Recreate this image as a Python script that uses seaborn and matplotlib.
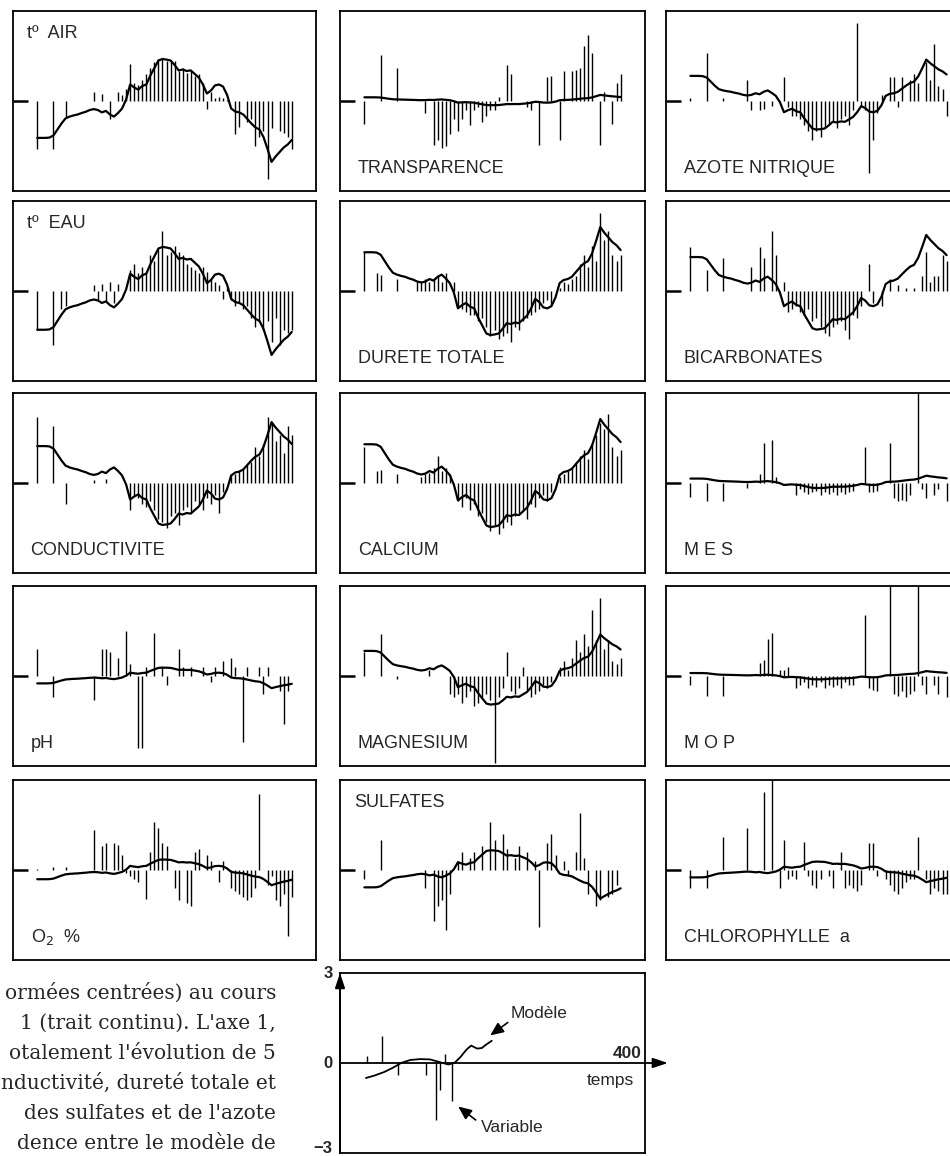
import numpy as np
import matplotlib
matplotlib.use('Agg')
import matplotlib.pyplot as plt
import seaborn as sns

sns.set_style('white')
plt.rcParams['font.family'] = ['Liberation Sans', 'DejaVu Sans']

# score of the samples on axis 1 (the "model" time course)
axe1 = [-1.23, -1.23, -1.23, -1.22, -1.15, -0.95, -0.75, -0.58, -0.52, -0.48,
        -0.45, -0.40, -0.36, -0.30, -0.27, -0.30, -0.38, -0.33, -0.45, -0.52,
        -0.40, -0.25, 0.05, 0.55, 0.45, 0.38, 0.50, 0.55, 0.85, 1.10,
        1.35, 1.40, 1.38, 1.35, 1.20, 1.02, 1.05, 1.00, 1.02, 0.90,
        0.78, 0.55, 0.25, 0.35, 0.52, 0.55, 0.48, 0.20, -0.25, -0.35,
        -0.38, -0.45, -0.60, -0.75, -0.88, -0.95, -1.20, -1.60, -2.03, -1.85,
        -1.70, -1.55, -1.45, -1.30]

# correlation of each variable with axis 1
loadings = {
    't_air': 1.0, 'transparence': -0.1, 'azote': -0.68,
    't_eau': 1.05, 'durete': -1.05, 'bicarb': -0.92,
    'conduct': -1.0, 'calcium': -1.05, 'mes': -0.12,
    'ph': 0.2, 'magnesium': -0.68, 'mop': -0.08,
    'o2': 0.25, 'sulfates': 0.47, 'chloro': 0.2,
}

# standardised values of each variable (0 = no sample drawn)
t_air = [-1.6, 0, 0, 0, -1.6, 0, 0, -0.55, 0, 0,
         0, 0, 0, 0, 0.3, 0, 0.25, 0, -0.6, 0,
         0.3, 0.2, 0.4, 1.25, 0.6, 0.55, 0.7, 0.9, 1.1, 1.3,
         1.4, 1.4, 1.35, 1.3, 1.35, 1.0, 1.1, 0.95, 1.0, 0.85,
         0.9, 0.6, -0.25, 0.3, 0.1, 0.15, 0.1, 0.05, 0, -1.1,
         -0.85, 0, -0.7, -0.6, -1.5, -1.2, -1.0, -2.6, -0.9, 0,
         -1.0, -1.05, -1.2, -1.6]
transparence = [-0.75, 0, 0, 0, 1.55, 0, 0, 0, 1.1, 0,
                0, 0, 0, 0, 0, -0.4, 0, -1.45, -1.3, -1.55,
                -1.5, -1.1, -0.6, -1.0, -0.6, -0.3, -0.8, -0.3, -0.2, -0.7,
                -0.5, -0.3, -0.3, 0.15, 0, 1.2, 0.9, 0, 0, 0,
                -0.2, -0.3, 0, -1.45, 0, 0.8, 0.85, 0, -1.3, 1.0,
                0, 1.0, 1.05, 1.1, 1.85, 2.2, 1.6, 0, -1.45, 0.3,
                0, -0.75, 0.6, 0.9]
azote = [0.1, 0, 0, 0, 1.6, 0, 0, 0, 0.1, 0,
         0, 0, 0, 0, 0.7, -0.3, 0, -0.3, -0.25, 0,
         -0.15, 0, 0, 0.8, -0.2, -0.5, -0.5, -0.6, -0.8, -1.0,
         -1.3, -1.0, -1.2, -0.9, -0.8, -0.7, -0.9, -0.6, -0.5, -0.8,
         -0.3, 2.6, -0.2, -0.3, -2.4, -1.3, -0.4, 0.2, 0, 0.8,
         0.8, -0.2, 0.8, 0, 0.7, 0.9, 0.6, 0, 1.3, 0.7,
         1.9, 0.5, 0.4, -0.5]
t_eau = [-1.3, 0, 0, 0, -1.8, 0, -0.6, -0.5, 0, 0,
         0, 0, 0, 0, 0.2, -0.3, 0.25, -0.35, 0.3, -0.4,
         0.25, 0, 0, 0.7, 0.9, 0.6, 0.8, 0.6, 1.2, 1.0,
         1.4, 2.0, 1.2, 1.3, 1.5, 1.3, 1.2, 0.9, 0.8, 0.7,
         0.6, 0.8, 0.65, 0.4, 0.3, 0.2, -0.25, 0.1, -0.3, -0.5,
         -0.4, -0.6, -0.5, -0.9, -1.2, -1.0, -1.3, -1.0, -1.7, -0.9,
         -1.8, -1.3, -1.4, -1.3]
durete = [1.3, 0, 0, 0.6, 0.55, 0, 0, 0, 0.4, 0,
          0, 0, 0, 0.3, 0.35, 0.4, 0.3, 0.45, 0.5, 0.3,
          0.6, 0, 0.3, -0.5, -0.6, -0.7, -0.8, -0.8, -1.0, -0.9,
          -1.2, -1.5, -1.3, -1.6, -1.5, -1.4, -1.7, -1.2, -1.3, -1.0,
          -0.9, -0.8, -0.7, -0.6, -0.4, -0.3, -0.5, 0, 0.1, 0.3,
          0.25, 0.4, 0.5, 0.9, 1.2, 0.8, 1.5, 1.0, 2.6, 1.7,
          2.0, 1.2, 1.0, 1.2]
bicarb = [1.45, 0, 0, 0, 0.7, 0, 0, 0, 1.1, 0,
          0, 0, 0, 0, 0, 0.8, 0, 1.45, 1.1, 0,
          2.0, 1.2, 0, 0.3, -0.7, -0.6, -0.5, -0.7, -0.8, -0.6,
          -1.0, -0.9, -1.2, -1.4, -1.5, -1.2, -1.1, -1.0, -1.3, -1.6,
          -0.8, -0.9, -0.5, 0, 0.9, -0.4, 0, -0.5, 0, 0.4,
          0, 0.2, 0, 0.1, 0, 0.1, 0, 0.5, 1.3, 0.3,
          0.5, 0.5, 1.2, 1.0]
conduct = [2.2, 0, 0, 0, 1.9, 0, 0, -0.7, 0, 0,
           0, 0, 0, 0, 0.1, 0, 0, 0.15, 0, 0,
           0, 0, 0, -0.9, -0.4, -0.5, -0.7, -0.8, -0.6, -0.9,
           -1.2, -1.3, -1.5, -1.1, -1.0, -1.4, -0.9, -0.8, -1.0, -0.6,
           -0.7, -0.9, -0.5, -0.7, -0.4, -1.0, -0.3, 0, 0.3, 0.3,
           0.4, 0.5, 0.6, 0.7, 1.2, 0.9, 1.3, 2.2, 2.0, 1.4,
           1.6, 1.0, 1.9, 1.6]
calcium = [1.2, 0, 0, 0.4, 0.45, 0, 0, 0, 0.3, 0,
           0, 0, 0, 0, 0.2, 0.3, 0.35, 0.5, 0.9, 0.4,
           0.5, 0.3, 0, -0.6, -0.8, -0.5, -0.9, -0.7, -1.1, -1.0,
           -1.3, -1.6, -1.4, -1.7, -1.5, -1.3, -1.4, -1.1, -1.0, -0.9,
           -1.2, -0.7, -0.8, -0.5, -0.4, -0.6, -0.3, 0, 0.2, 0.3,
           0.4, 0.5, 0.7, 0.9, 1.1, 0.8, 1.3, 1.6, 2.0, 1.8,
           2.3, 1.2, 0.9, 1.1]
mes = [-0.45, 0, 0, 0, -0.6, 0, 0, 0, -0.6, 0,
       0, 0, 0, 0, -0.15, 0, 0, 0.3, 1.35, 0,
       1.45, 0.2, 0, 0, 0, 0, -0.4, -0.2, -0.3, -0.35,
       -0.3, -0.25, -0.4, -0.3, -0.35, -0.3, -0.4, -0.3, -0.35, -0.3,
       -0.25, 0, 0, 1.2, -0.3, -0.3, -0.25, 0, 0, 1.35,
       -0.5, -0.6, -0.55, -0.6, -0.4, 0, 3.2, -0.2, -0.5, 0,
       -0.4, -0.2, 0, -0.6]
ph = [0.9, 0, 0, 0, -0.7, 0, 0, 0, 0, 0,
      0, 0, 0, 0, -0.8, 0, 0.9, 0.9, 0.8, 0,
      0.6, 0, 1.5, 0.4, 0, -2.4, -2.4, 0.3, 0, 1.45,
      0, 0.3, -0.3, 0, 0, 0.9, 0.3, 0, 0.3, 0,
      0, 0.3, 0, -0.2, 0.3, 0, 0.5, 0, 0.6, 0.3,
      0, -2.2, 0.3, 0, 0, 0.3, -0.6, 0.3, 0, 0,
      -0.5, -1.6, -0.5, 0]
magnesium = [0.8, 0, 0, 0, 1.4, 0, 0, 0, -0.1, 0,
             0, 0, 0, 0, 0, 0, 0.2, 0, 0, 0,
             0, -0.6, -0.7, -0.6, -0.9, -0.7, -0.5, -1.0, -0.9, -0.7,
             -0.6, -0.8, -2.9, -0.7, -0.4, 0.8, -0.5, -0.6, -0.4, 0.3,
             -0.5, -0.7, -0.6, -0.5, -0.3, -0.4, -0.2, 0, 0.3, 0.5,
             0.2, 0.6, 1.2, 0.8, 1.4, 1.0, 2.2, 1.2, 2.6, 0.9,
             1.2, 0.5, 0.4, 0.6]
mop = [-0.3, 0, 0, 0, -0.65, 0, 0, 0, -0.65, 0,
       0, 0, 0, 0, 0, 0, 0, 0.45, 0.55, 1.25,
       1.45, 0, 0.2, 0.2, 0.3, 0, -0.4, -0.3, -0.2, -0.4,
       -0.3, -0.35, -0.2, -0.4, -0.3, -0.35, -0.3, -0.4, -0.2, -0.3,
       -0.3, 0, 0, 2.05, -0.4, -0.45, -0.5, 0, 0, 3.2,
       -0.6, -0.65, -0.5, -0.7, -0.6, -0.5, 3.2, -0.3, -0.6, 0,
       -0.3, -0.6, 0, -0.7]
o2 = [0.05, 0, 0, 0, 0.1, 0, 0, 0.1, 0, 0,
      0, 0, 0, 0, 1.35, 0, 0.8, 0.9, 0, 0.9,
      0.85, 0.5, -0.1, -0.2, -0.3, -0.4, 0, -0.95, 0.6, 1.6,
      1.4, 0.9, 0.8, 0, -0.6, -1.0, 0, -1.1, -1.2, 0.6,
      0.7, 0, 0.5, 0.3, 0, -0.4, 0.3, 0, -0.6, -0.7,
      -0.8, -0.9, -1.0, -0.9, -0.6, 2.55, 0, -0.5, -0.2, -1.0,
      -1.2, -0.8, -2.2, -0.9]
sulfates = [-0.3, 0, 0, 0, 1.0, 0, 0, 0, 0, 0,
            0, 0, 0, 0, 0, -0.6, 0, -1.7, -1.2, -1.0,
            -2.0, -0.8, 0, 0.3, 0.6, 0, 0.4, 0.6, 0, 0.8,
            0, 1.6, 1.0, 0, 1.2, 0.7, 0, 0.4, 0.8, 0,
            0.6, 0, 0.3, -1.9, 0, 0.9, 1.2, 0.5, 0, 0.3,
            -0.2, 0, 0.6, 1.9, 0.4, -0.8, 0, -1.2, -1.0, 0,
            -0.9, -0.8, -0.5, 0]
chloro = [-0.6, 0, 0, 0, -0.6, 0, 0, 0, 1.1, 0,
          0, 0, 0, 0, 1.4, 0, 0, 0, 2.6, 0,
          3.2, 0, -0.6, 1.0, -0.3, -0.2, -0.3, 0, 0.95, -0.2,
          -0.5, -0.6, -0.3, 0, -0.2, -0.6, 0, 0.6, -0.6, -0.5,
          -0.6, -0.7, -0.5, 0, 0.9, 0.9, -0.2, 0, -0.3, -0.5,
          -0.7, -0.8, -0.6, -0.4, -0.3, -0.3, 1.1, 0, -0.3, -0.8,
          -0.6, -0.7, -0.8, -0.8]

# panel grid: (key, values, label, label on top?)
panels = [
    [('t_air', t_air, 'tº  AIR', True), ('transparence', transparence, 'TRANSPARENCE', False),
     ('azote', azote, 'AZOTE NITRIQUE', False)],
    [('t_eau', t_eau, 'tº  EAU', True), ('durete', durete, 'DURETE TOTALE', False),
     ('bicarb', bicarb, 'BICARBONATES', False)],
    [('conduct', conduct, 'CONDUCTIVITE', False), ('calcium', calcium, 'CALCIUM', False),
     ('mes', mes, 'M E S', False)],
    [('ph', ph, 'pH', False), ('magnesium', magnesium, 'MAGNESIUM', False),
     ('mop', mop, 'M O P', False)],
    [('o2', o2, 'O$_2$  %', False), ('sulfates', sulfates, 'SULFATES', True),
     ('chloro', chloro, 'CHLOROPHYLLE  a', False)],
]

# legend schematic
leg_t = [34, 45, 58, 70, 80, 92, 105, 118, 128, 135, 142, 150, 158, 166, 172, 180, 186, 192, 199]
leg_model = [-0.5, -0.42, -0.3, -0.15, 0.0, 0.1, 0.13, 0.12, 0.05, 0.0, -0.05, 0.0,
             0.2, 0.45, 0.58, 0.48, 0.5, 0.62, 0.74]
leg_bar_t = [35, 55, 76, 113, 126, 131, 138, 147]
leg_bar_v = [0.23, 0.9, -0.4, -0.4, -1.9, -0.9, 0.3, -1.26]

# caption text, cut by the left edge of the page
text_lines = ['ormées centrées) au cours',
              '1 (trait continu). L\'axe 1,',
              'otalement l\'évolution de 5',
              'nductivité, dureté totale et',
              'des sulfates et de l\'azote',
              'dence entre le modèle de']

W, H = 950, 1156
fig = plt.figure(figsize=(W / 100, H / 100), dpi=100)


def box(x, y, w, h):
    return fig.add_axes([x / W, 1 - (y + h) / H, w / W, h / H])


col_x = [13, 340, 666]
col_w = [303, 305, 305]
row_y = [11, 201, 393, 586, 780]
ph_h = 180
t = np.arange(len(axe1))

for r, row in enumerate(panels):
    for c, (key, vals, label, top) in enumerate(row):
        ax = box(col_x[c], row_y[r], col_w[c], ph_h)
        vals = np.array(vals)
        m = vals != 0
        ax.vlines(t[m], 0, vals[m], color='black', lw=1.0)
        model = np.array(axe1) * loadings[key]
        sns.lineplot(x=t, y=model, ax=ax, color='black', lw=1.6)
        ax.plot([-6, -2.4], [0, 0], color='black', lw=1.8, solid_capstyle='butt')
        ax.set_xlim(-6, len(axe1) - 1 + 6)
        ax.set_ylim(-3.0, 3.0)
        ax.set_xticks([])
        ax.set_yticks([])
        ax.set_xlabel('')
        ax.set_ylabel('')
        for s in ax.spines.values():
            s.set_visible(True)
            s.set_color('black')
            s.set_linewidth(1.3)
        if top:
            ax.text(0.045, 0.85, label, transform=ax.transAxes, fontsize=13,
                    ha='left', va='baseline')
        else:
            ax.text(0.058, 0.1, label, transform=ax.transAxes, fontsize=13,
                    ha='left', va='baseline')

# legend panel
ax = box(340, 973, 305, 180)
ax.vlines(leg_bar_t, 0, leg_bar_v, color='black', lw=1.0)
sns.lineplot(x=leg_t, y=leg_model, ax=ax, color='black', lw=1.3)
ax.set_xlim(0, 400)
ax.set_ylim(-3, 3)
ax.set_xticks([])
ax.set_yticks([])
ax.set_xlabel('')
ax.set_ylabel('')
for s in ax.spines.values():
    s.set_color('black')
    s.set_linewidth(1.3)
for v, lab in [(3, '3'), (0, '0'), (-2.85, '−3')]:
    ax.text(-0.025, (v + 3) / 6, lab, transform=ax.transAxes, fontsize=12,
            fontweight='bold', ha='right', va='center')
ax.annotate('', xy=(0, 3.0), xytext=(0, -3), annotation_clip=False,
            arrowprops=dict(arrowstyle='-|>,head_length=0.9,head_width=0.3',
                            color='black', lw=1.3, shrinkA=0, shrinkB=0))
ax.annotate('', xy=(430, 0), xytext=(0, 0), annotation_clip=False,
            arrowprops=dict(arrowstyle='-|>,head_length=0.9,head_width=0.3',
                            color='black', lw=1.3, shrinkA=0, shrinkB=0))
ax.text(395, 0.32, '400', fontsize=12.5, fontweight='bold', ha='right', va='center')
ax.text(355, -0.6, 'temps', fontsize=12.5, ha='center', va='center')
ax.text(224, 1.65, 'Modèle', fontsize=12.5, ha='left', va='center')
ax.text(185, -2.15, 'Variable', fontsize=12.5, ha='left', va='center')
ax.annotate('', xy=(197, 0.92), xytext=(220, 1.35),
            arrowprops=dict(arrowstyle='-|>,head_length=0.8,head_width=0.35',
                            color='black', lw=1.2, shrinkA=0, shrinkB=0))
ax.annotate('', xy=(155, -1.45), xytext=(178, -1.9),
            arrowprops=dict(arrowstyle='-|>,head_length=0.8,head_width=0.35',
                            color='black', lw=1.2, shrinkA=0, shrinkB=0))

# truncated caption text at bottom left
for i, line in enumerate(text_lines):
    fig.text(276 / W, 1 - (999 + 30 * i) / H, line, ha='right', va='baseline',
             fontsize=14.5, family=['DejaVu Serif'])

fig.savefig('out.png', dpi=100)
